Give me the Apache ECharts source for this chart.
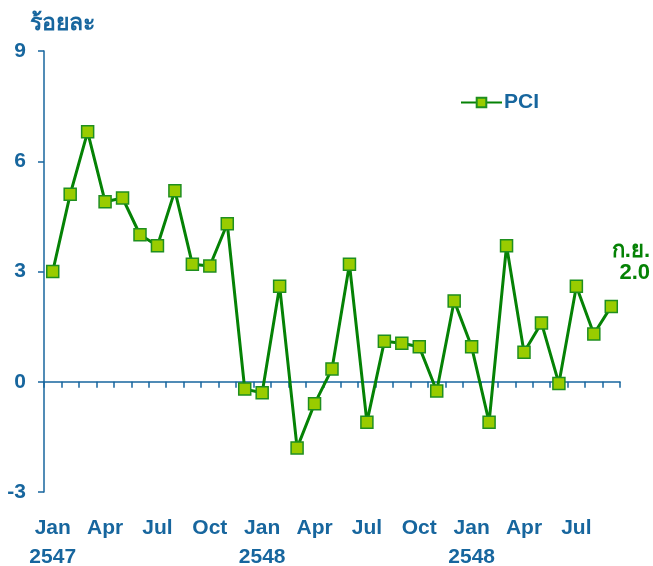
<!DOCTYPE html>
<html>
<head>
<meta charset="utf-8">
<script src="https://cdn.jsdelivr.net/npm/echarts@6/dist/echarts.min.js"></script>
<style>
  html, body { margin: 0; padding: 0; background: #fff; }
  #main { width: 653px; height: 566px; }
</style>
</head>
<body>
<div id="main"></div>
<script>
    // เดือน (แสดงป้ายทุก 3 เดือน)
    var months = [
        'Jan\n2547', 'Feb', 'Mar', 'Apr', 'May', 'Jun', 'Jul', 'Aug', 'Sep', 'Oct', 'Nov', 'Dec',
        'Jan\n2548', 'Feb', 'Mar', 'Apr', 'May', 'Jun', 'Jul', 'Aug', 'Sep', 'Oct', 'Nov', 'Dec',
        'Jan\n2548', 'Feb', 'Mar', 'Apr', 'May', 'Jun', 'Jul', 'Aug', 'Sep'
    ];
    // PCI ร้อยละ
    var pci = [
        3.0, 5.1, 6.8, 4.9, 5.0, 4.0, 3.7, 5.2, 3.2, 3.15, 4.3, -0.2,
        -0.3, 2.6, -1.8, -0.6, 0.35, 3.2, -1.1, 1.1, 1.05, 0.95, -0.25, 2.2,
        0.95, -1.1, 3.7, 0.8, 1.6, -0.05, 2.6, 1.3, 2.05
    ];
    var yTicks = { min: -3, max: 9, step: 3 };

    var blue = '#17669e';
    var green = '#058205';
    var font = '"Liberation Sans", Arial, "Noto Sans", sans-serif';

    var myChart = echarts.init(document.getElementById('main'));
    var option = {
        animation: false,
        textStyle: { fontFamily: font },
        grid: { left: 44, right: 33, top: 51, bottom: 74, outerBoundsMode: 'none' },
        legend: {
            data: ['PCI'],
            left: 455,
            top: 87,
            itemWidth: 41,
            itemHeight: 12,
            textStyle: { color: blue, fontWeight: 'bold', fontSize: 21, fontFamily: font, padding: [0, 0, 0, -3] }
        },
        xAxis: [
            {
                type: 'category',
                data: months,
                boundaryGap: true,
                axisLine: { onZero: true, lineStyle: { color: blue, width: 1.5 } },
                axisTick: { show: true, interval: 0, length: 6, lineStyle: { color: blue, width: 1.5 } },
                axisLabel: { show: false },
                splitLine: { show: false }
            },
            {
                type: 'category',
                data: months,
                position: 'bottom',
                boundaryGap: true,
                axisLine: { show: false, onZero: false },
                axisTick: { show: false },
                axisLabel: {
                    interval: 2,
                    margin: 22,
                    color: blue,
                    fontWeight: 'bold',
                    fontSize: 21,
                    lineHeight: 29,
                    fontFamily: font
                },
                splitLine: { show: false }
            }
        ],
        yAxis: {
            type: 'value',
            min: yTicks.min,
            max: yTicks.max,
            interval: yTicks.step,
            name: 'ร้อยละ',
            nameLocation: 'end',
            nameGap: 16,
            nameTextStyle: {
                color: blue, fontWeight: 'bold', fontSize: 23, align: 'left',
                padding: [0, 0, 0, -14], fontFamily: font
            },
            axisLine: { show: true, lineStyle: { color: blue, width: 1.5 } },
            axisTick: { show: true, length: 6, lineStyle: { color: blue, width: 1.5 } },
            axisLabel: { color: blue, fontWeight: 'bold', fontSize: 21, margin: 18, fontFamily: font },
            splitLine: { show: false }
        },
        series: [{
            name: 'PCI',
            type: 'line',
            xAxisIndex: 0,
            data: pci,
            symbol: 'rect',
            symbolSize: 12,
            showSymbol: true,
            showAllSymbol: true,
            lineStyle: { color: green, width: 3 },
            itemStyle: { color: '#99cc00', borderColor: '#1f8f1f', borderWidth: 1.5 }
        }],
        graphic: [{
            type: 'text',
            right: 3,
            top: 240,
            style: {
                text: 'ก.ย.\n2.0',
                fill: green,
                font: 'bold 22px ' + font,
                textAlign: 'right',
                lineHeight: 22
            }
        }]
    };
    myChart.setOption(option);
</script>
</body>
</html>
